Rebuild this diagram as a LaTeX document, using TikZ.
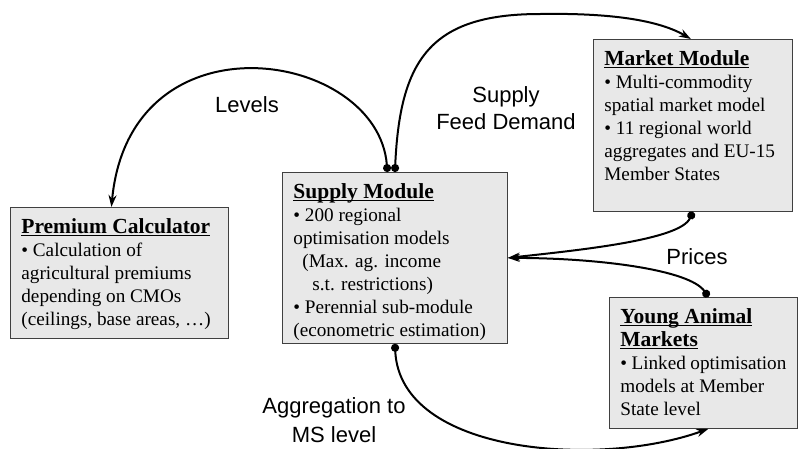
\documentclass[tikz,border=0pt]{standalone}
\usepackage{fontspec}
\setmainfont{Liberation Serif}
\newfontfamily\arialfont{Liberation Sans}
\usetikzlibrary{arrows.meta}

\newcommand{\modhead}[1]{\leavevmode{\fontsize{21.5}{23}\selectfont\bfseries\setbox0\hbox{#1}\rlap{\rule[-2.6pt]{\wd0}{1.1pt}}\box0}}
\newcommand{\modtext}[3]{\parbox[t][#1][t]{#2}{\raggedright\rule{0pt}{26pt}#3}}

\begin{document}
\begin{tikzpicture}[x=1pt, y=-1pt,
  module/.style={draw=black!75, fill=black!9, line width=0.8pt, inner xsep=11pt, inner ysep=0pt, anchor=north west, font=\fontsize{19.2}{23}\selectfont},
  lbl/.style={font=\arialfont\fontsize{22}{26.5}\selectfont, align=center, inner sep=0pt},
  link/.style={line width=2pt, {Circle[length=8pt]}-{Stealth[length=12pt,width=8pt]}}]
\useasboundingbox (0,0) rectangle (798,448);
\node[module] (prem) at (10,207) {\modtext{131pt}{196pt}{\modhead{Premium Calculator}\\ • Calculation of\\ agricultural premiums\\ depending on CMOs\\ (ceilings, base areas, …)}};
\node[module] (supply) at (282,172) {\modtext{171pt}{203pt}{\modhead{Supply Module}\\ • 200 regional\\ optimisation models\\ \hspace*{9pt}(Max. ag. income\\ \hspace*{19pt}s.t. restrictions)\\ • Perennial sub-module\\ (econometric estimation)}};
\node[module] (market) at (593,39) {\modtext{172pt}{177pt}{\modhead{Market Module}\\ • Multi-commodity\\ spatial market model\\ • 11 regional world\\ aggregates and EU-15\\ Member States}};
\node[module] (young) at (609,297) {\modtext{131pt}{166pt}{\modhead{Young Animal}\\ \modhead{Markets}\\ • Linked optimisation\\ models at Member\\ State level}};

\node[lbl] (levels) at (247,105) {Levels};
\node[lbl] (feed) at (506,108) {Supply\\Feed Demand};
\node[lbl] (prices) at (697,257) {Prices};
\node[lbl] (aggr) at (334,420) {Aggregation to\\[2pt]MS level};

\draw[link] ([xshift=-7.5pt]supply.north) .. controls (378,50) and (130,10) .. ([xshift=-8pt]prem.north);
\draw[link] (supply.north) .. controls (400,60) and (430,14) .. (540,14) .. controls (600,13) and (655,18) .. ([xshift=-2pt]market.north);
\draw[link] (market.south) .. controls (680,240) and (580,250) .. (supply.east);
\draw[link] ([xshift=5pt]young.north) .. controls (690,270) and (600,258) .. (supply.east);
\draw[link] (supply.south) .. controls (400,455) and (600,468) .. ([xshift=5pt]young.south);
\end{tikzpicture}
\end{document}
